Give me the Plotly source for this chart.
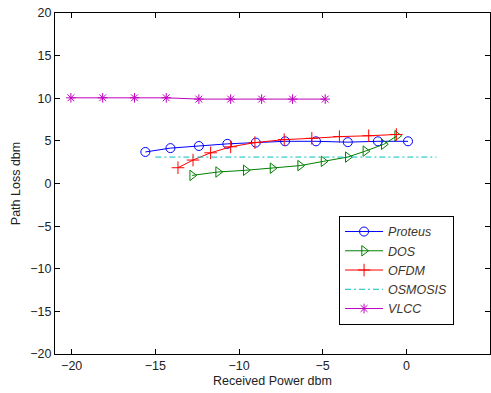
import plotly.graph_objects as go

# Proteus
proteus_x = [-15.6, -14.1, -12.4, -10.7, -9.0, -7.25, -5.4, -3.5, -1.7, 0.1]
proteus_y = [3.7, 4.15, 4.4, 4.65, 4.8, 4.95, 4.95, 4.85, 4.95, 4.95]
# DOS
dos_x = [-12.8, -11.25, -9.6, -8.0, -6.35, -4.95, -3.5, -2.45, -1.35, -0.55]
dos_y = [0.95, 1.35, 1.55, 1.8, 2.1, 2.6, 3.1, 3.8, 4.6, 5.6]
# OFDM
ofdm_x = [-13.65, -12.75, -11.7, -10.5, -9.05, -7.3, -5.65, -4.0, -2.25, -0.6]
ofdm_y = [1.85, 2.75, 3.6, 4.3, 4.8, 5.15, 5.3, 5.5, 5.6, 5.75]
# OSMOSIS
osmosis_x = [-15.0, 1.8]
osmosis_y = [3.1, 3.1]
# VLCC
vlcc_x = [-20.05, -18.15, -16.25, -14.35, -12.4, -10.5, -8.65, -6.8, -4.85]
vlcc_y = [10.05, 10.05, 10.05, 10.05, 9.9, 9.9, 9.9, 9.9, 9.9]

x_ticks = [-20, -15, -10, -5, 0, 5]
y_ticks = [-20, -15, -10, -5, 0, 5, 10, 15, 20]

FONT = "Liberation Sans, Arial"
FS = 12.5

fig = go.Figure()
fig.add_trace(go.Scatter(x=proteus_x, y=proteus_y, name="Proteus", mode="lines+markers",
                         line=dict(color="#0000FF", width=1),
                         marker=dict(symbol="circle-open", size=9, color="#0000FF", line=dict(width=1))))
fig.add_trace(go.Scatter(x=dos_x, y=dos_y, name="DOS", mode="lines+markers",
                         line=dict(color="#008000", width=1),
                         marker=dict(symbol="triangle-right-open", size=9, color="#008000", line=dict(width=1))))
fig.add_trace(go.Scatter(x=ofdm_x, y=ofdm_y, name="OFDM", mode="lines+markers",
                         line=dict(color="#FF0000", width=1),
                         marker=dict(symbol="cross-thin-open", size=9, color="#FF0000", line=dict(width=1, color="#FF0000"))))
fig.add_trace(go.Scatter(x=osmosis_x, y=osmosis_y, name="OSMOSIS", mode="lines",
                         line=dict(color="#00BFBF", width=1, dash="6px,3px,2px,3px")))
fig.add_trace(go.Scatter(x=vlcc_x, y=vlcc_y, name="VLCC", mode="lines+markers",
                         line=dict(color="#BF00BF", width=1),
                         marker=dict(symbol="asterisk-open", size=8, color="#BF00BF", line=dict(width=1, color="#BF00BF"))))

axis_common = dict(showgrid=False, zeroline=False, showline=True, linecolor="black", linewidth=1,
                   mirror="ticks", ticks="inside", ticklen=5, tickcolor="black", automargin=False,
                   tickfont=dict(family=FONT, size=FS, color="#222"))
fig.update_xaxes(range=[-21, 5], tickvals=x_ticks,
                 title=dict(text="Received Power dbm", font=dict(family=FONT, size=FS, color="#222"), standoff=4),
                 **axis_common)
fig.update_yaxes(range=[-20, 20], tickvals=y_ticks,
                 title=dict(text="Path Loss dbm", font=dict(family=FONT, size=FS, color="#222"), standoff=6),
                 **axis_common)

fig.update_layout(
    width=491, height=393,
    margin=dict(l=55, r=1, t=13, b=39),
    paper_bgcolor="white", plot_bgcolor="white",
    showlegend=True,
    legend=dict(x=0.653, y=0.405, xanchor="left", yanchor="top",
                bgcolor="white", bordercolor="black", borderwidth=1,
                font=dict(family=FONT, size=12.5, color="#3f352c", style="italic"),
                itemwidth=38, tracegroupgap=0),
)

fig.write_html("out.html", config={"displayModeBar": False},
               post_script="document.body.style.margin='0px';document.body.style.overflow='hidden';")
